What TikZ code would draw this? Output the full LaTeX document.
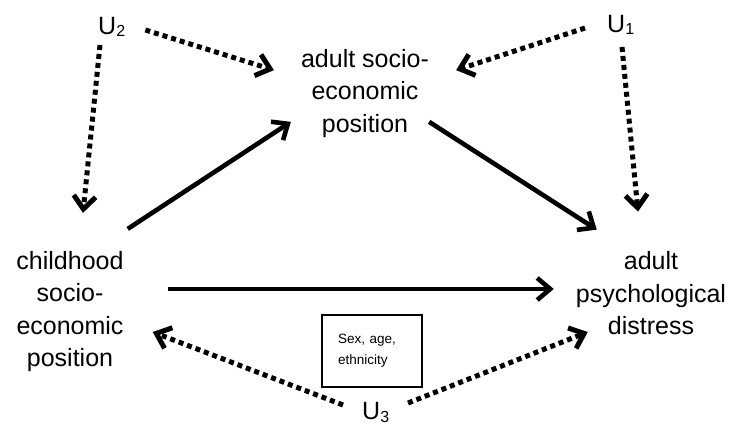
\documentclass[tikz,border=0pt]{standalone}
\usepackage{fontspec}
\setmainfont{Liberation Sans}
\usetikzlibrary{arrows.meta}
\tikzset{
  causal/.style={line width=4.6pt, -{Straight Barb[length=13pt,width=22pt]}},
  confound/.style={line width=5pt, dash pattern=on 5pt off 4pt, -{Straight Barb[length=13pt,width=22pt]}},
  varname/.style={inner sep=0pt, align=center, font=\fontsize{25}{32.5}\selectfont},
}
\newcommand{\usub}[1]{U\raisebox{-2pt}{\fontsize{16}{16}\selectfont #1}}

\begin{document}
\begin{tikzpicture}[x=1pt, y=1pt]
        \useasboundingbox (0,0) rectangle (730,425);
        \node[varname, anchor=base west] (u2) at (98, 390) {\usub{2}};
        \node[varname, anchor=base west] (u1) at (607, 392) {\usub{1}};
        \node[varname, anchor=base west] (u3) at (362, 5) {\usub{3}};
        \node[varname] (asep) at (365, 331.5) {adult socio-\\economic\\position};
        \node[varname] (csep) at (70, 113.5) {childhood\\socio-\\economic\\position};
        \node[varname] (apd) at (651, 131.5) {adult\\psychological\\distress};
        \node[draw, line width=1.2pt, text width=68pt, inner xsep=16pt, minimum height=72pt,
              align=left, font=\fontsize{13.5}{21}\selectfont] (covs) at (372, 74) {Sex, age,\\ethnicity};
        % solid paths
        \draw[causal] ([shift={(4,22)}]csep.north east) -- ([shift={(-10,16)}]asep.south west);
        \draw[causal] ([shift={(0,16)}]asep.south east) -- ([shift={(21,22)}]apd.north west);
        \draw[causal] ([shift={(44,22.5)}]csep.east) -- ([shift={(-22,4.5)}]apd.west);
        % unmeasured confounders
        \draw[confound] ([shift={(20,5)}]u2.base east) -- ([shift={(-27,-21)}]asep.north west);
        \draw[confound] ([shift={(2,-10)}]u2.base west) -- ([shift={(13,38)}]csep.north);
        \draw[confound] ([shift={(-22,5)}]u1.base west) -- ([shift={(27,-21)}]asep.north east);
        \draw[confound] ([shift={(15,-14)}]u1.base west) -- ([shift={(-13,40)}]apd.north);
        \draw[confound] ([shift={(-19,15)}]u3.base west) -- ([shift={(29,-20.5)}]csep.east);
        \draw[confound] ([shift={(46,17)}]u3.base west) -- ([shift={(12,-38.5)}]apd.west);
\end{tikzpicture}
\end{document}
